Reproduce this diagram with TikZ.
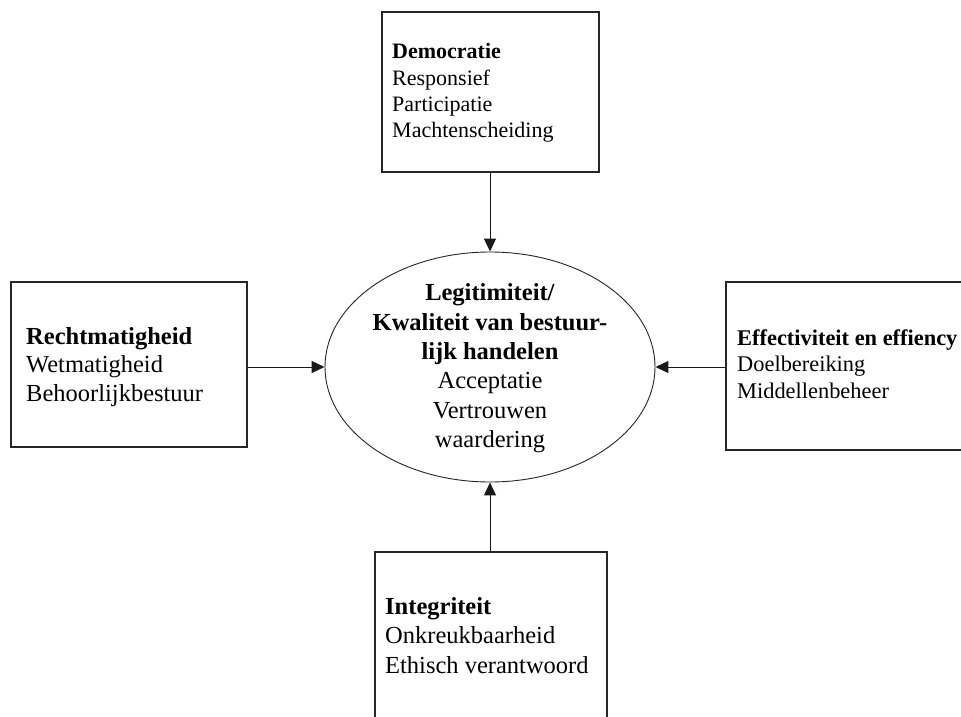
\documentclass[tikz,border=0pt]{standalone}
\usepackage{fontspec}
\setmainfont{Liberation Serif}
\usetikzlibrary{shapes.geometric,arrows.meta}
\begin{document}
\begin{tikzpicture}[x=1pt,y=-1pt,
  box/.style={draw=black!85, line width=1.3pt, inner sep=0pt},
  arr/.style={draw=black!90, line width=1pt, -{Triangle[length=13pt,width=12pt]}},
  txt/.style={anchor=base west, inner sep=0pt, text=black},
  ctxt/.style={anchor=base, inner sep=0pt, text=black},
  fsA/.style={font=\fontsize{22}{26}\selectfont},
  fsE/.style={font=\fontsize{22.4}{26}\selectfont},
  fsB/.style={font=\fontsize{24.5}{29}\selectfont}]
\useasboundingbox (0,0) rectangle (961,717);
\clip (0,0) rectangle (961,717);
\fill[white] (0,0) rectangle (961,717);

% frames around the four aspects and the central ellipse
\node[box, minimum width=217pt, minimum height=160pt] (dem) at (490.5,92) {};
\node[box, minimum width=236pt, minimum height=165pt] (recht) at (129,364.5) {};
\node[box, minimum width=280pt, minimum height=168pt] (eff) at (866,366) {};
\node[box, minimum width=232pt, minimum height=220pt] (integ) at (491,662) {};
\node[draw=black!85, line width=0.9pt, ellipse, inner sep=0pt,
      minimum width=330pt, minimum height=230pt] (leg) at (490,367) {};

% connectors pointing into the ellipse
\draw[arr] (dem.south -| leg.north) -- (leg.north);
\draw[arr] (leg.west -| recht.east) -- (leg.west);
\draw[arr] (leg.east -| eff.west) -- (leg.east);
\draw[arr] (integ.north -| leg.south) -- (leg.south);

% Democratie
\node[txt, fsA] (d1) at (392,59) {\textbf{Democratie}};
\node[txt, fsA] (d2) at (392,85) {Responsief};
\node[txt, fsA] (d3) at (392,111) {Participatie};
\node[txt, fsA] (d4) at (392,137) {Machtenscheiding};

% Rechtmatigheid
\node[txt, fsB] (r1) at (26,344) {\textbf{Rechtmatigheid}};
\node[txt, fsB] (r2) at (26,372.5) {Wetmatigheid};
\node[txt, fsB] (r3) at (26,401) {Behoorlijkbestuur};

% Effectiviteit
\node[txt, fsE] (e1) at (737,345) {\textbf{Effectiviteit en effiency}};
\node[txt, fsE] (e2) at (737,371.5) {Doelbereiking};
\node[txt, fsE] (e3) at (737,398) {Middellenbeheer};

% Integriteit
\node[txt, fsB] (i1) at (385,614) {\textbf{Integriteit}};
\node[txt, fsB] (i2) at (385,643.5) {Onkreukbaarheid};
\node[txt, fsB] (i3) at (385,673) {Ethisch verantwoord};

% central ellipse text
\node[ctxt, fsB] (l1) at (490,300.5) {\textbf{Legitimiteit/}};
\node[ctxt, fsB] (l2) at (490,330) {\textbf{Kwaliteit van bestuur-}};
\node[ctxt, fsB] (l3) at (490,359) {\textbf{lijk handelen}};
\node[ctxt, fsB] (l4) at (490,388.5) {Acceptatie};
\node[ctxt, fsB] (l5) at (490,418) {Vertrouwen};
\node[ctxt, fsB] (l6) at (490,447) {waardering};
\end{tikzpicture}
\end{document}
